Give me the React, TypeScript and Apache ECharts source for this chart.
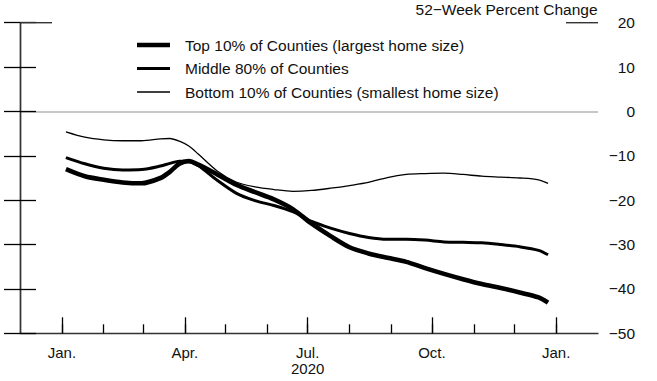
import React, { useEffect, useRef } from "react";
import * as echarts from "echarts";

// ---- Data ----
const dates = [
  "2020-01-04", "2020-01-18", "2020-02-01", "2020-02-15", "2020-02-29",
  "2020-03-14", "2020-03-21", "2020-03-28", "2020-04-04", "2020-04-11",
  "2020-04-25", "2020-05-09", "2020-05-23", "2020-06-06", "2020-06-20",
  "2020-07-04", "2020-07-18", "2020-08-01", "2020-08-15", "2020-08-29",
  "2020-09-12", "2020-09-26", "2020-10-10", "2020-10-24", "2020-11-07",
  "2020-11-21", "2020-12-05", "2020-12-19", "2020-12-26",
];

const top10 = [
  -13.0, -14.6, -15.4, -16.0, -16.2,
  -15.0, -13.6, -11.8, -11.2, -12.0,
  -14.2, -16.5, -18.2, -19.8, -22.0,
  -25.3, -28.1, -30.6, -32.0, -33.0,
  -33.9, -35.3, -36.6, -37.8, -38.9,
  -39.8, -40.8, -41.9, -43.1,
];

const middle80 = [
  -10.4, -11.8, -12.8, -13.2, -13.1,
  -12.3, -11.7, -11.2, -11.2, -12.2,
  -15.5, -18.4, -20.1, -21.2, -22.6,
  -24.8, -26.3, -27.5, -28.4, -28.8,
  -28.8, -29.0, -29.4, -29.5, -29.6,
  -30.0, -30.5, -31.3, -32.3,
];

const bottom10 = [
  -4.6, -5.8, -6.4, -6.6, -6.6,
  -6.2, -6.1, -6.7, -7.8, -9.6,
  -13.4, -15.9, -17.0, -17.6, -18.0,
  -17.8, -17.3, -16.7, -16.0, -14.9,
  -14.2, -14.0, -13.9, -14.2, -14.6,
  -14.8, -15.0, -15.4, -16.2,
];

const seriesNames = [
  "Top 10% of Counties (largest home size)",
  "Middle 80% of Counties",
  "Bottom 10% of Counties (smallest home size)",
];

const axisStart = "2019-12-01";
const axisEnd = "2021-02-01";
const monthTickDates = [
  "2020-01-01", "2020-02-01", "2020-03-01", "2020-04-01", "2020-05-01",
  "2020-06-01", "2020-07-01", "2020-08-01", "2020-09-01", "2020-10-01",
  "2020-11-01", "2020-12-01", "2021-01-01",
];
const majorTickDates = ["2020-01-01", "2020-04-01", "2020-07-01", "2020-10-01", "2021-01-01"];
const majorTickLabels = ["Jan.", "Apr.", "Jul.\n2020", "Oct.", "Jan."];

const yMin = -50;
const yMax = 20;
const yInterval = 10;
const yTitle = "52\u2212Week Percent Change";

// ---- Helpers ----
const utc = (s: string) => {
  const [y, m, d] = s.split("-").map(Number);
  return Date.UTC(y, m - 1, d);
};
const START = utc(axisStart);
const toDay = (s: string) => Math.round((utc(s) - START) / 86400000);

const FONT = "Liberation Sans, Arial, sans-serif";

export default function App() {
  const ref = useRef<HTMLDivElement>(null);

  useEffect(() => {
    if (!ref.current) return;
    const chart = echarts.init(ref.current, undefined, { renderer: "svg" });
    const days = dates.map(toDay);
    const maxDay = toDay(axisEnd);
    const monthTicks = monthTickDates.map(toDay);
    const majorTicks = majorTickDates.map(toDay);
    const labelFor = (v: number) => {
      const i = majorTicks.indexOf(Math.round(v));
      return i >= 0 ? majorTickLabels[i] : "";
    };

    const gridLeft = 20;
    const gridRight = 59;
    const gridTop = 22.7;
    const gridBottom = 47.7;
    const axisColor = "#333";

    const mk = (vals: number[]) => vals.map((v, i) => [days[i], v]);
    const widths = [4.6, 3, 1.3];
    const all = [top10, middle80, bottom10];

    const series: any[] = all.map((vals, i) => ({
      name: seriesNames[i],
      type: "line",
      data: mk(vals),
      showSymbol: false,
      symbol: "none",
      smooth: 0.3,
      lineStyle: { color: "#000", width: widths[i] },
      itemStyle: { color: "#000" },
      z: 5 - i,
      silent: true,
    }));
    series.push({
      type: "line",
      data: [],
      silent: true,
      markLine: {
        silent: true,
        symbol: "none",
        label: { show: false },
        lineStyle: { color: "#b5b5b5", width: 1.6, type: "solid" },
        data: [{ yAxis: 0 }],
      },
    });

    const yCommon = {
      type: "value",
      min: yMin,
      max: yMax,
      interval: yInterval,
      splitLine: { show: false },
      axisLine: { show: true, lineStyle: { color: axisColor, width: 1.4 } },
      axisTick: { show: true, inside: true, length: 16, lineStyle: { color: "#000", width: 1.3 } },
      z: 6,
    };

    chart.setOption({
      animation: false,
      title: {
        text: yTitle,
        right: 657 - 597.5,
        top: 1,
        padding: 0,
        textStyle: { fontFamily: FONT, fontSize: 15.5, fontWeight: "normal", color: "#111" },
      },
      legend: {
        orient: "vertical",
        left: 137,
        top: 37,
        padding: 0,
        itemGap: 7.5,
        itemWidth: 33,
        itemHeight: 14,
        selectedMode: false,
        symbolKeepAspect: true,
        data: seriesNames.map((name, i) => ({
          name,
          icon: `path://M0,0L33,0L33,${widths[i]}L0,${widths[i]}Z`,
          itemStyle: { color: "#000", borderWidth: 0 },
        })),
        textStyle: {
          fontFamily: FONT,
          fontSize: 15.5,
          color: "#111",
          lineHeight: 16,
          padding: [0, 0, 0, 10],
        },
      },
      grid: { left: gridLeft, right: gridRight, top: gridTop, bottom: gridBottom, containLabel: false },
      xAxis: [
        {
          type: "value",
          min: 0,
          max: maxDay,
          position: "bottom",
          splitLine: { show: false },
          axisLine: { show: true, onZero: false, lineStyle: { color: axisColor, width: 1.4 } },
          axisTick: {
            show: true,
            inside: true,
            length: 9,
            customValues: monthTicks,
            lineStyle: { color: "#000", width: 1.3 },
          },
          axisLabel: { show: false },
        },
        {
          type: "value",
          min: 0,
          max: maxDay,
          position: "bottom",
          splitLine: { show: false },
          axisLine: { show: false, onZero: false },
          axisTick: {
            show: true,
            inside: true,
            length: 16,
            customValues: majorTicks,
            lineStyle: { color: "#000", width: 1.3 },
          },
          axisLabel: {
            show: true,
            customValues: majorTicks,
            formatter: (v: number) => labelFor(v),
            margin: 11,
            fontFamily: FONT,
            fontSize: 15,
            lineHeight: 16,
            color: "#111",
          },
        },
      ],
      yAxis: [
        { ...yCommon, position: "left", axisLabel: { show: false } },
        {
          ...yCommon,
          position: "right",
          axisLabel: {
            show: true,
            align: "right",
            margin: 37,
            fontFamily: FONT,
            fontSize: 15.5,
            color: "#111",
            formatter: (v: number) => String(v).replace("-", "\u2212"),
          },
        },
      ],
      graphic: [
        {
          type: "line",
          silent: true,
          z: 10,
          shape: { x1: gridLeft, y1: gridTop, x2: gridLeft + 32, y2: gridTop },
          style: { stroke: axisColor, lineWidth: 1.4 },
        },
        {
          type: "line",
          silent: true,
          z: 10,
          shape: { x1: 657 - gridRight - 32, y1: gridTop, x2: 657 - gridRight, y2: gridTop },
          style: { stroke: axisColor, lineWidth: 1.4 },
        },
      ],
      series,
    });

    return () => chart.dispose();
  }, []);

  return (
    <div
      ref={ref}
      style={{ position: "fixed", left: 0, top: 0, width: 657, height: 381, background: "#fff" }}
    />
  );
}
